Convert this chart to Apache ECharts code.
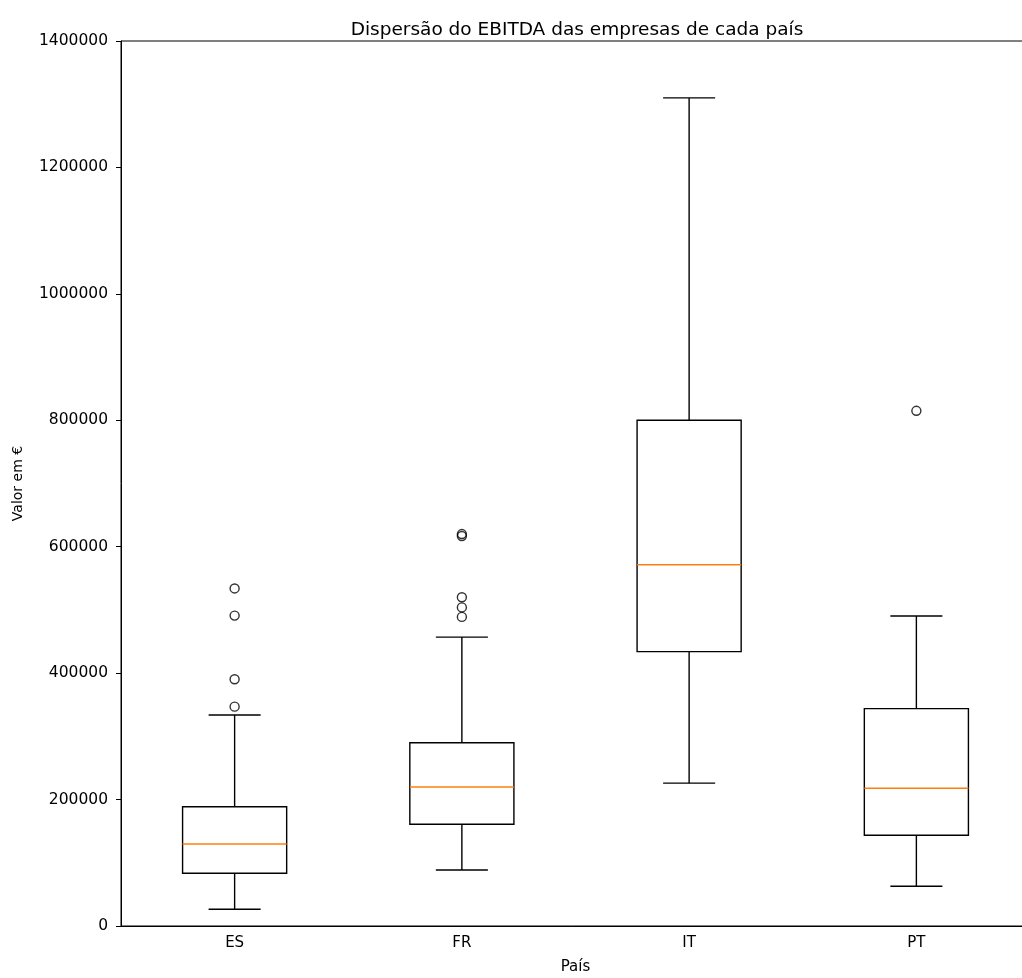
<!DOCTYPE html>
<html>
<head>
<meta charset="utf-8">
<script src="https://cdn.jsdelivr.net/npm/echarts@6/dist/echarts.min.js"></script>
<style>html,body{margin:0;padding:0;background:#fff}#c{width:1022px;height:978px}</style>
</head>
<body>
<div id="c"></div>
<script>
const categories = ['ES', 'FR', 'IT', 'PT'];
// [lower whisker, Q1, median, Q3, upper whisker]
const boxES = [26400, 83400, 129700, 188700, 333800];
const boxFR = [88600, 161000, 220000, 290000, 457000];
const boxIT = [226000, 434000, 571400, 800000, 1310000];
const boxPT = [62800, 143500, 217800, 343800, 490400];
const outES = [347000, 390300, 491000, 534000];
const outFR = [489000, 504000, 520000, 617000, 620000];
const outIT = [];
const outPT = [815000];
const yTicks = [0, 200000, 400000, 600000, 800000, 1000000, 1200000, 1400000];

const boxes = [boxES, boxFR, boxIT, boxPT];
const outs = [outES, outFR, outIT, outPT];
const boxData = boxes.map((b, i) => [i].concat(b));
const outData = [];
outs.forEach((arr, i) => arr.forEach(v => outData.push([i, v])));

const FONT = 'DejaVu Sans';
const chart = echarts.init(document.getElementById('c'));
chart.setOption({
  backgroundColor: '#fff',
  animation: false,
  title: {
    text: 'Dispersão do EBITDA das empresas de cada país',
    left: 572, top: 16, textAlign: 'center',
    textStyle: {fontFamily: FONT, fontSize: 18.5, fontWeight: 'normal', color: '#000'}
  },
  grid: {left: 121, top: 41, width: 909, height: 885, outerBoundsMode: 'none', containLabel: false,
    show: true, borderColor: '#000', borderWidth: 1, backgroundColor: 'transparent'},
  xAxis: {
    type: 'category', data: categories, boundaryGap: true,
    name: 'País', nameLocation: 'middle', nameGap: 34,
    nameTextStyle: {fontFamily: FONT, fontSize: 15, color: '#000'},
    axisLine: {lineStyle: {color: '#000', width: 1}},
    axisTick: {alignWithLabel: true, length: 5, lineStyle: {color: '#000'}},
    axisLabel: {fontFamily: FONT, fontSize: 15, color: '#000', margin: 10},
    splitLine: {show: false}
  },
  yAxis: {
    type: 'value', min: 0, max: 1400000, interval: 200000,
    name: 'Valor em €', nameLocation: 'middle', nameGap: 96, nameRotate: 90,
    nameTextStyle: {fontFamily: FONT, fontSize: 14, color: '#000'},
    axisLine: {show: true, lineStyle: {color: '#000', width: 1}},
    axisTick: {show: true, length: 5, lineStyle: {color: '#000'}},
    axisLabel: {fontFamily: FONT, fontSize: 15.5, color: '#000', margin: 13,
      formatter: v => yTicks.includes(v) ? String(v) : ''},
    splitLine: {show: false}
  },
  series: [
    {
      type: 'custom',
      data: boxData,
      encode: {x: 0, y: [1, 2, 3, 4, 5]},
      renderItem: function (params, api) {
        const i = api.value(0);
        const band = api.size([1, 0])[0];
        const bw = band * 0.458;
        const cw = bw / 2;
        const pLo = api.coord([i, api.value(1)]);
        const pQ1 = api.coord([i, api.value(2)]);
        const pMed = api.coord([i, api.value(3)]);
        const pQ3 = api.coord([i, api.value(4)]);
        const pHi = api.coord([i, api.value(5)]);
        const x = pQ1[0];
        const ls = {stroke: '#000', lineWidth: 1.4, fill: null};
        return {
          type: 'group',
          children: [
            {type: 'rect', shape: {x: x - bw / 2, y: pQ3[1], width: bw, height: pQ1[1] - pQ3[1]}, style: {stroke: '#000', lineWidth: 1.4, fill: 'rgba(0,0,0,0)'}},
            {type: 'line', shape: {x1: x, y1: pQ3[1], x2: x, y2: pHi[1]}, style: ls},
            {type: 'line', shape: {x1: x, y1: pQ1[1], x2: x, y2: pLo[1]}, style: ls},
            {type: 'line', shape: {x1: x - cw / 2, y1: pHi[1], x2: x + cw / 2, y2: pHi[1]}, style: ls},
            {type: 'line', shape: {x1: x - cw / 2, y1: pLo[1], x2: x + cw / 2, y2: pLo[1]}, style: ls},
            {type: 'line', shape: {x1: x - bw / 2, y1: pMed[1], x2: x + bw / 2, y2: pMed[1]}, style: {stroke: '#ff7f0e', lineWidth: 1.4}}
          ]
        };
      }
    },
    {
      type: 'scatter',
      data: outData,
      symbol: 'circle',
      symbolSize: 9,
      itemStyle: {color: 'rgba(255,255,255,0)', borderColor: '#000', borderWidth: 1.4}
    }
  ]
});
</script>
</body>
</html>
